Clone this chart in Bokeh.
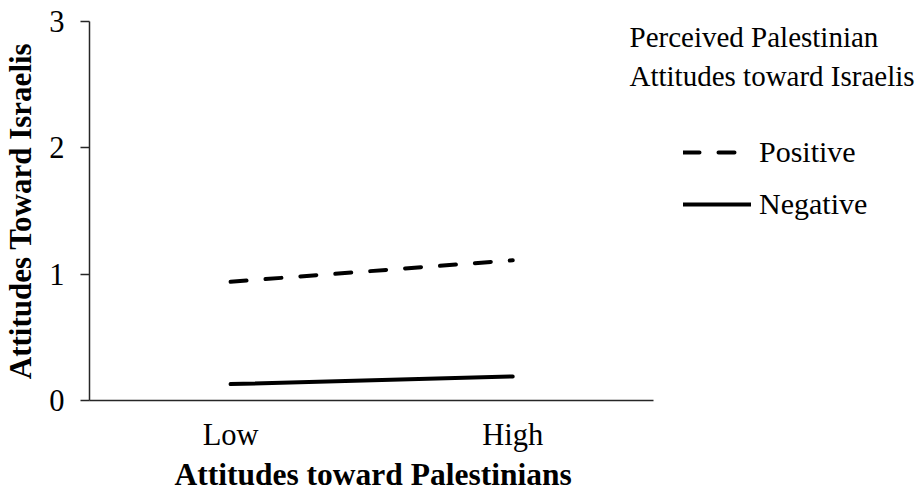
from bokeh.plotting import figure
from bokeh.models import (Range1d, FixedTicker, Legend, LegendItem, Label, Title)
from bokeh.embed import file_html
from bokeh.resources import INLINE

# ---- data ----
categories = ["Low", "High"]
positive = [0.94, 1.11]
negative = [0.13, 0.19]
y_ticks = [0, 1, 2, 3]
series_names = ["Positive", "Negative"]
legend_title_lines = ["Perceived Palestinian", "Attitudes toward Israelis"]
x_title = "Attitudes toward Palestinians"
y_title = "Attitudes Toward Israelis"

FONT = "Liberation Serif"

# ---- layout (pixels) ----
W, H = 917, 493
LEFT, TOP, BOTTOM = 88, 21, 93
CAT_PX = 565                       # width of the category area of the x axis
frame_px = W - LEFT

# category positions (category axis: each category occupies one unit)
x_pos = [i + 1 for i in range(len(categories))]
x_lo, x_hi = 0.5, len(categories) + 0.5
# frame runs past the category area so that the legend lives inside it
x_end = x_lo + (x_hi - x_lo) * frame_px / CAT_PX

p = figure(width=W, height=H, x_range=Range1d(x_lo, x_end),
           y_range=Range1d(0, 3), output_backend="svg", toolbar_location=None,
           min_border_left=LEFT, min_border_top=TOP, min_border_bottom=BOTTOM,
           min_border_right=0)
p.outline_line_color = None
p.background_fill_color = "white"
p.border_fill_color = "white"
p.xgrid.grid_line_color = None
p.ygrid.grid_line_color = None

# y axis
ya = p.yaxis[0]
ya.ticker = FixedTicker(ticks=y_ticks)
ya.minor_tick_line_color = None
ya.major_tick_in = 0
ya.major_tick_out = 9
ya.major_tick_line_color = "#262626"
ya.major_tick_line_width = 1.5
ya.axis_line_color = "#262626"
ya.axis_line_width = 1.5
ya.major_label_standoff = 16
ya.major_label_text_font = FONT
ya.major_label_text_font_size = "30.5px"
ya.major_label_text_line_height = 1.0
ya.major_label_text_color = "black"
ya.axis_label = y_title
ya.axis_label_text_font = FONT
ya.axis_label_text_font_style = "bold"
ya.axis_label_text_font_size = "31px"
ya.axis_label_text_line_height = 1.0
ya.axis_label_text_color = "black"
ya.axis_label_standoff = 8

# x axis (category style)
xa = p.xaxis[0]
xa.ticker = FixedTicker(ticks=x_pos)
xa.major_label_overrides = {x: c for x, c in zip(x_pos, categories)}
xa.bounds = (x_lo, x_hi)
xa.major_tick_line_color = None
xa.minor_tick_line_color = None
xa.major_tick_in = 0
xa.major_tick_out = 0
xa.axis_line_color = "#262626"
xa.axis_line_width = 1.5
xa.major_label_standoff = 17
xa.major_label_text_font = FONT
xa.major_label_text_font_size = "30.5px"
xa.major_label_text_line_height = 1.0
xa.major_label_text_color = "black"

p.add_layout(Title(text=x_title, align="left", offset=85, standoff=0,
                   text_font=FONT, text_font_style="bold", text_font_size="31.5px",
                   text_line_height=1.0, text_color="black"), "below")

r_pos = p.line(x=x_pos, y=positive, line_color="black", line_width=4,
               line_dash="16 19", line_cap="round")
r_neg = p.line(x=x_pos, y=negative, line_color="black", line_width=4,
               line_cap="round")

legend = Legend(items=[LegendItem(label=series_names[0], renderers=[r_pos]),
                       LegendItem(label=series_names[1], renderers=[r_neg])],
                location=(594, 179), orientation="vertical",
                glyph_width=68, glyph_height=30, label_height=30, spacing=18,
                label_standoff=8, padding=0, margin=0,
                border_line_color=None, background_fill_alpha=0,
                label_text_font=FONT, label_text_font_size="30px",
                label_text_color="black")
p.add_layout(legend)

for i, line in enumerate(legend_title_lines):
    p.add_layout(Label(x=540, y=364 - 39 * i, x_units="screen", y_units="screen",
                       text=line, text_font=FONT, text_font_size="29px",
                       text_color="black", text_baseline="alphabetic", text_align="left"))

open("out.html", "w").write(file_html(p, INLINE))
